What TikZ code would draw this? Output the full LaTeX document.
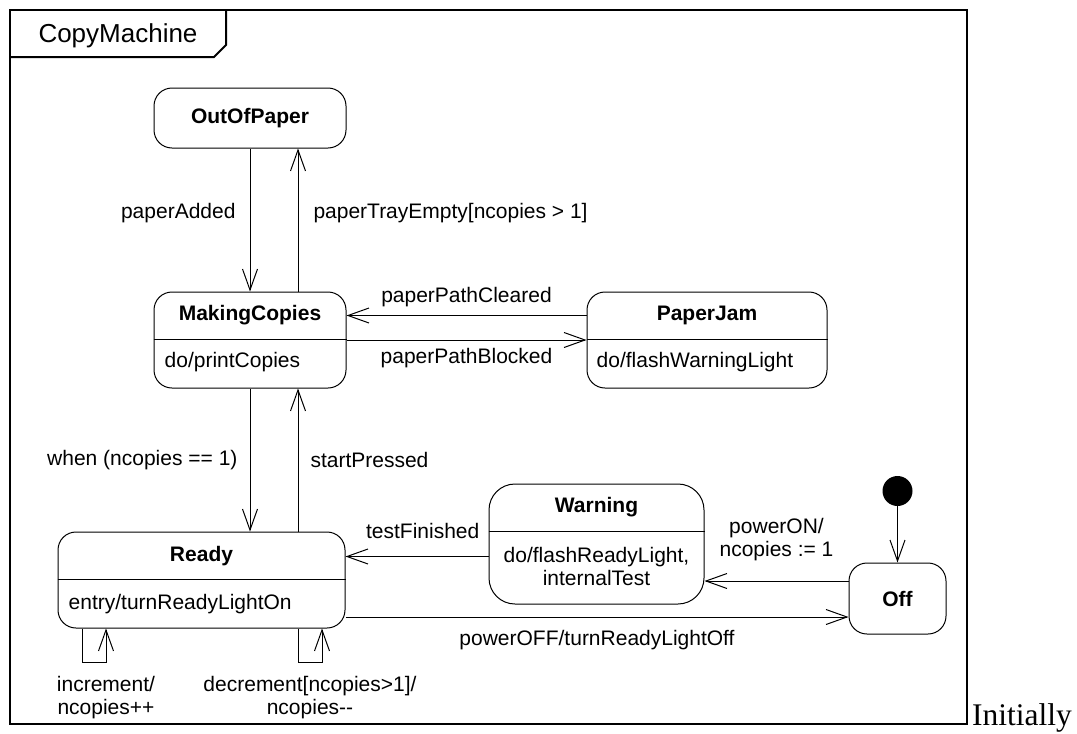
\documentclass[tikz,border=0pt]{standalone}
\usepackage{fontspec}
\setmainfont{Liberation Serif}
\setsansfont{Liberation Sans}
\usetikzlibrary{arrows.meta,positioning,calc}

\begin{document}
\begin{tikzpicture}[x=1pt,y=-1pt,
					every node/.style={font=\sffamily\fontsize{21}{23}\selectfont, inner sep=0pt},
					state/.style={draw, line width=1pt, rounded corners=18pt},
					sname/.style={font=\sffamily\bfseries\fontsize{21}{23}\selectfont},
					divider/.style={line width=1pt},
					trans/.style={line width=1pt, -{Straight Barb[length=21pt,width=15pt]}}]
				\useasboundingbox (0,0) rectangle (1077,734);
				% frame
				\draw[line width=2pt] (10,10) rectangle (967,724);
				\draw[line width=2pt] (10,57) -- (214,57) -- (226,45) -- (226,10);
				\node[font=\sffamily\fontsize{26}{30}\selectfont] (machine) at (118,36) {CopyMachine};
				% states
				\node[state, sname, minimum width=192pt, minimum height=60pt] (outofpaper) at (250,118) {OutOfPaper};
				\node[state, minimum width=192pt, minimum height=96pt] (making) at (250,340) {};
				\node[sname] (making-t) at ([yshift=-24pt]making.north) {MakingCopies};
				\draw[divider] ([yshift=-48pt]making.north west) -- ([yshift=-48pt]making.north east);
				\node[anchor=west] (making-a) at ([xshift=11pt,yshift=-71pt]making.north west) {do/printCopies};
				\node[state, minimum width=240pt, minimum height=96pt] (paperjam) at (707,340) {};
				\node[sname] (paperjam-t) at ([yshift=-24pt]paperjam.north) {PaperJam};
				\draw[divider] ([yshift=-48pt]paperjam.north west) -- ([yshift=-48pt]paperjam.north east);
				\node[anchor=west] (paperjam-a) at ([xshift=10pt,yshift=-71pt]paperjam.north west) {do/flashWarningLight};
				\node[state, minimum width=287pt, minimum height=96pt] (ready) at (201.5,580) {};
				\node[sname] (ready-t) at ([yshift=-25pt]ready.north) {Ready};
				\draw[divider] ([yshift=-48pt]ready.north west) -- ([yshift=-48pt]ready.north east);
				\node[anchor=west] (ready-a) at ([xshift=11pt,yshift=-73pt]ready.north west) {entry/turnReadyLightOn};
				\node[state, rounded corners=26pt, minimum width=215pt, minimum height=120pt] (warning) at (596.5,544) {};
				\node[sname] (warning-t) at ([yshift=-24pt]warning.north) {Warning};
				\draw[divider] ([yshift=-48pt]warning.north west) -- ([yshift=-48pt]warning.north east);
				\node[anchor=north, align=center] (warning-a) at ([yshift=-64pt]warning.north) {do/flashReadyLight,\\internalTest};
				\node[state, sname, minimum width=97pt, minimum height=71pt] (off) at (897.5,598.5) {Off};
				\node[circle, fill, minimum size=30pt] (init) at (897.5,491) {};
				% helper points
				\coordinate (mc-up) at ([xshift=48pt]making.south);
				\coordinate (on-out) at ([yshift=17.5pt]off.west);
				\coordinate (off-in) at ([yshift=-18.5pt]off.west);
				% transitions
				\draw[trans] (outofpaper.south) -- node[pos=0.45, left=14pt] {paperAdded} (making.north);
				\draw[trans] ([xshift=48pt]making.north) -- node[pos=0.55, right=15pt] {paperTrayEmpty[ncopies > 1]} ([xshift=48pt]outofpaper.south);
				\draw[trans] (making.south) -- node[left=12pt] {when (ncopies == 1)} (making.south |- ready.north);
				\draw[trans] (mc-up |- ready.north) -- node[right=12pt] {startPressed} (mc-up);
				\draw[trans] (paperjam.west |- making-t) -- node[above=8pt] {paperPathCleared} (making.east |- making-t);
				\draw[trans] (making.east) -- node[below=8pt] {paperPathBlocked} (paperjam.west);
				\draw[trans] (warning.west |- ready-t) -- node[pos=0.46, above=17pt] {testFinished} (ready.east |- ready-t);
				\draw[trans] (on-out) -- node[above=20pt, align=center] {powerON/\\ncopies := 1} (warning.east |- on-out);
				\draw[trans] (ready.east |- off-in) -- node[below=13pt] {powerOFF/turnReadyLightOff} (off-in);
				\draw[trans] (init) -- (off.north);
				\draw[trans] ([xshift=-119.5pt]ready.south) -- ++(0,34) -- ++(24,0) node[below=13pt, align=center] {increment/\\ncopies++} -- ([xshift=-95.5pt]ready.south);
				\draw[trans] ([xshift=96.5pt]ready.south) -- ++(0,34) -- node[below=13pt, align=center] {decrement[ncopies>1]/\\ncopies-{}-} ++(24,0) -- ([xshift=120.5pt]ready.south);
				\node[font=\rmfamily\fontsize{31.5}{35}\selectfont, anchor=base west] (note) at (972,725) {Initially};
			\end{tikzpicture}
\end{document}
